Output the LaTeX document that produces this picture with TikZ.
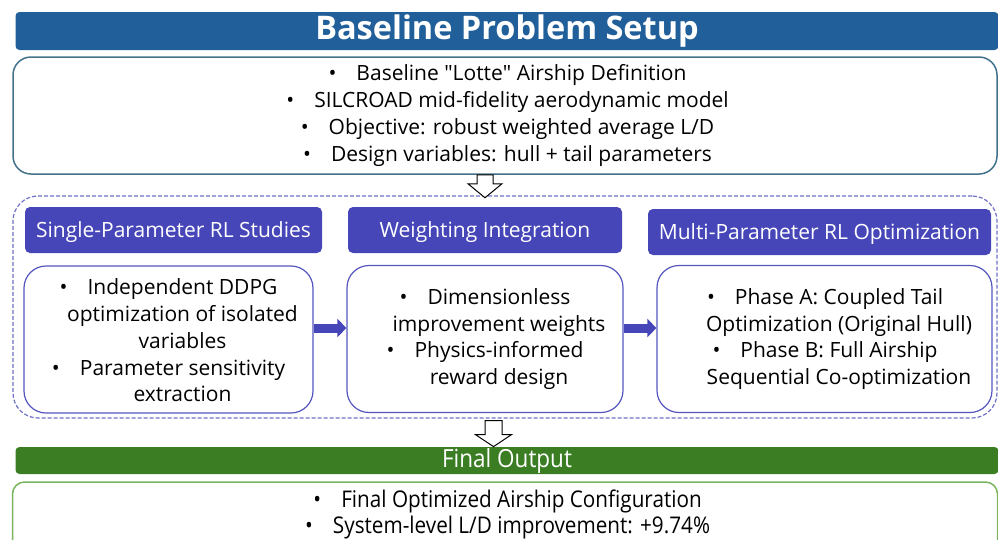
\documentclass[tikz,border=0pt]{standalone}
\usepackage{fontspec}
\setmainfont{Open Sans}
\newfontfamily\qfont{Open Sans}[Ligatures=ResetAll]
\newfontfamily\narrowfont[FakeStretch=0.9]{Open Sans}
\usetikzlibrary{arrows.meta,calc}
\definecolor{titleblue}{RGB}{33,95,154}
\definecolor{topborder}{RGB}{66,114,138}
\definecolor{dashcol}{RGB}{112,112,200}
\definecolor{headfill}{RGB}{70,70,185}
\definecolor{contborder}{RGB}{85,85,190}
\definecolor{outgreen}{RGB}{59,125,35}
\definecolor{outborder}{RGB}{122,181,92}
\newcommand\mybody{\fontsize{21}{26.8}\selectfont}
\newcommand\bul{\llap{\textbullet\hspace{20pt}}}
\newcommand\dq{{\qfont\symbol{34}}}
\begin{document}
\begin{tikzpicture}[x=1pt,y=-1pt,
  titlebar/.style={fill=titleblue, rounded corners=4pt, inner sep=0pt, minimum width=983pt, minimum height=38pt, text=white, font=\bfseries\fontsize{32.5}{33}\selectfont},
  infobox/.style={draw=topborder, line width=1.5pt, rounded corners=18pt, inner sep=0pt},
  groupbox/.style={draw=dashcol, line width=1.2pt, dash pattern=on 4pt off 2pt, rounded corners=25pt, inner sep=0pt},
  header/.style={fill=headfill, rounded corners=5pt, inner sep=0pt, text=white, minimum height=46pt, text height=17pt, text depth=3pt, font=\fontsize{21}{22}\selectfont},
  content/.style={draw=contborder, line width=1.2pt, fill=white, rounded corners=22pt, inner sep=0pt, minimum height=147pt},
  btext/.style={align=center, inner sep=0pt, font=\mybody},
  hollow/.style={draw=black, fill=white, line width=1pt, line join=miter},
  flow/.style={draw=headfill, line width=9pt, -{Triangle[length=9pt,width=18pt]}},
  outbar/.style={fill=outgreen, rounded corners=4pt, inner sep=0pt, minimum width=983pt, minimum height=27pt, text=white, font=\narrowfont\fontsize{25}{26}\selectfont},
  outbox/.style={draw=outborder, line width=1.5pt, rounded corners=12pt, inner sep=0pt, minimum width=985pt, minimum height=90pt},
  outtext/.style={align=center, inner sep=0pt, font=\narrowfont\fontsize{23}{26}\selectfont}
]
\path[use as bounding box] (0,0) rectangle (998,539);
\clip (0,0) rectangle (998,539);

% title
\node[titlebar] (title) at (507,31) {Baseline Problem Setup};

% top box
\node[infobox, minimum width=984pt, minimum height=117pt] (topbox) at (505,115.5) {};
\node[btext] (toptext) at ($(topbox.center)+(16.5,0)$)
  {\bul Baseline \dq Lotte\dq\ Airship Definition\\
   \bul SILCROAD mid-fidelity aerodynamic model\\
   \bul Objective: robust weighted average L/D\\
   \bul Design variables: hull + tail parameters};

% dashed group
\node[groupbox, minimum width=984pt, minimum height=222pt] (group) at (505,307) {};

% headers
\node[header, minimum width=297pt] (h1) at (173.5,230) {Single-Parameter RL Studies};
\node[header, minimum width=274pt] (h2) at (485,230) {Weighting Integration};
\node[header, minimum width=343pt] (h3) at (819.5,232) {Multi-Parameter RL Optimization};

% content boxes
\node[content, minimum width=289pt] (c1) at (168.5,339.5) {};
\node[content, minimum width=276pt] (c2) at (485,339) {};
\node[content, minimum width=335pt] (c3) at (824.5,339) {};
\node[btext] (t1) at ($(c1.center)+(14,1)$)
  {\bul Independent DDPG\\optimization of isolated\\variables\\\bul Parameter sensitivity\\extraction};
\node[btext] (t2) at ($(c2.center)+(14,0)$)
  {\bul Dimensionless\\improvement weights\\\bul Physics-informed\\reward design};
\node[btext] (t3) at ($(c3.center)+(14.5,0)$)
  {\bul Phase A: Coupled Tail\\Optimization (Original Hull)\\\bul Phase B: Full Airship\\Sequential Co-optimization};

% flow arrows
\draw[flow] (c1.east |- 0,328) -- (c2.west |- 0,328);
\draw[flow] (c2.east |- 0,328) -- (c3.west |- 0,328);

% output
\node[outbar] (obar) at (507,460.5) {Final Output};
\node[outbox] (obox) at (505,527) {};
\node[outtext] (otext) at (521.5,514)
  {\bul Final Optimized Airship Configuration\\
   \bul System-level L/D improvement: +9.74\%};

% hollow arrows
\coordinate (ha) at ($(topbox.south)+(-20,0)$);
\draw[hollow] (ha) ++(-8,0) -- ++(0,9) -- ++(-9,0) -- ++(17,14) -- ++(17,-14) -- ++(-9,0) -- ++(0,-9) -- cycle;
\coordinate (hb) at ($(group.south)+(-11.5,2)$);
\draw[hollow] (hb) ++(-8.5,0) -- ++(0,14) -- ++(-9.5,0) -- ++(18,12) -- ++(18,-12) -- ++(-9.5,0) -- ++(0,-14) -- cycle;
\end{tikzpicture}
\end{document}
